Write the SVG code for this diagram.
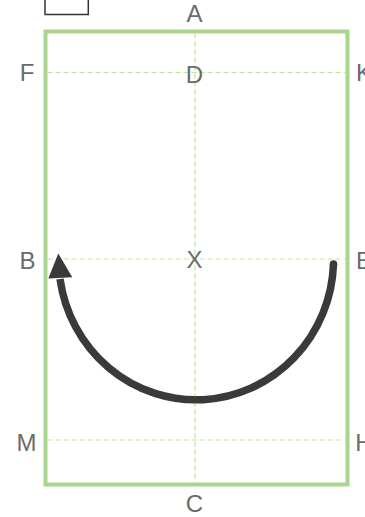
<svg xmlns="http://www.w3.org/2000/svg" width="365" height="517" viewBox="0 0 365 517">
<style>
.lbl{font-family:"Liberation Sans",Arial,sans-serif;font-size:24px;fill:#6b6b6b;text-anchor:middle}
.dash{stroke:#bfe5a0;stroke-width:1.2;stroke-dasharray:5 3;fill:none}
.arena{fill:none;stroke:#a9d58e;stroke-width:4}
.path{fill:none;stroke:#3a3a3a;stroke-width:7.5;stroke-linecap:butt}
</style>
<rect width="365" height="517" fill="#ffffff"/>
<g id="legend-box"><rect x="45" y="-5" width="43.3" height="19.5" fill="none" stroke="#333" stroke-width="1.5"/></g>
<g id="arena">
<rect class="arena" x="45.5" y="31.5" width="302" height="453"/>
<line class="dash" x1="47.5" y1="72.5" x2="345.5" y2="72.5"/>
<line class="dash" x1="47.5" y1="259" x2="345.5" y2="259"/>
<line class="dash" x1="47.5" y1="440" x2="345.5" y2="440"/>
<line class="dash" x1="195" y1="33.5" x2="195" y2="482.5"/>
</g>
<g id="labels">
<text class="lbl" x="194.5" y="22">A</text>
<text class="lbl" x="194.5" y="82.5">D</text>
<text class="lbl" x="194.5" y="268">X</text>
<text class="lbl" x="194.5" y="512">C</text>
<text class="lbl" x="27" y="81">F</text>
<text class="lbl" x="27.5" y="269">B</text>
<text class="lbl" x="26.5" y="451">M</text>
<text class="lbl" x="364" y="81">K</text>
<text class="lbl" x="364" y="269">E</text>
<text class="lbl" x="364" y="451">H</text>
</g>
<g id="connectors">
<path class="path" d="M 333.5 264 A 137.5 141 0 0 1 60 279"/>
<circle cx="333.5" cy="264" r="3.75" fill="#3a3a3a"/>
<polygon points="58.3,253.5 48.3,278.5 72.3,277.3" fill="#3a3a3a"/>
</g>
</svg>
